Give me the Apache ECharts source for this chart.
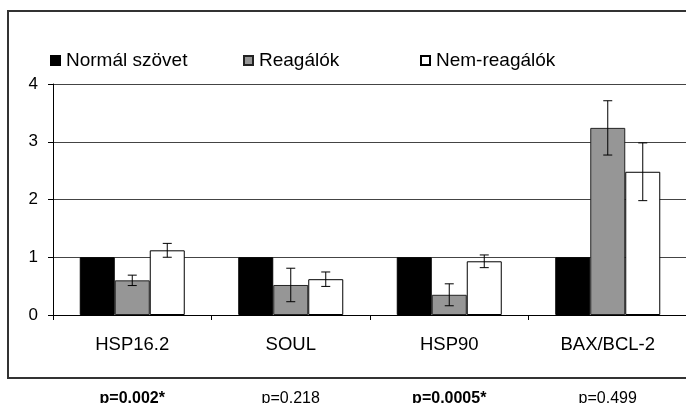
<!DOCTYPE html>
<html>
<head>
<meta charset="utf-8">
<script src="https://cdn.jsdelivr.net/npm/echarts@6/dist/echarts.min.js"></script>
<style>
html,body{margin:0;padding:0;background:#fff;}
#c{width:686px;height:403px;}
</style>
</head>
<body>
<div id="c"></div>
<script>
const categories = ['HSP16.2', 'SOUL', 'HSP90', 'BAX/BCL-2'];
const seriesNames = ['Normál szövet', 'Reagálók', 'Nem-reagálók'];
const normal = [1, 1, 1, 1];
const responders = [0.6, 0.52, 0.35, 3.24];
const respondersErr = [0.09, 0.29, 0.19, 0.47];
const nonResponders = [1.12, 0.62, 0.93, 2.48];
const nonRespondersErr = [0.12, 0.125, 0.11, 0.5];
const pValues = ['p=0.002*', 'p=0.218', 'p=0.0005*', 'p=0.499'];
const pSignificant = [true, false, true, false];
const yTicks = [0, 1, 2, 3, 4];

const chart = echarts.init(document.getElementById('c'), null, {renderer: 'canvas'});
const FONT = '"Liberation Sans", Arial, sans-serif';
const colors = ['#000000', '#969696', '#ffffff'];
const borders = ['#000000', '#222222', '#000000'];

function errSeries(name, values, errs, seriesIdx) {
  return {
    type: 'custom',
    name: name + '_err',
    xAxisIndex: 0, yAxisIndex: 0,
    z: 5,
    silent: true,
    data: values.map((v, i) => [i, v - errs[i], v + errs[i]]),
    renderItem: function (params, api) {
      const i = api.value(0);
      const lo = api.coord([i, api.value(1)]);
      const hi = api.coord([i, api.value(2)]);
      const bw = 35;
      const x = lo[0] + (seriesIdx - 1) * bw;
      const cap = 4.5;
      const st = {stroke: '#000', lineWidth: 1};
      return {
        type: 'group',
        children: [
          {type: 'line', shape: {x1: x, y1: lo[1], x2: x, y2: hi[1]}, style: st},
          {type: 'line', shape: {x1: x - cap, y1: lo[1], x2: x + cap, y2: lo[1]}, style: st},
          {type: 'line', shape: {x1: x - cap, y1: hi[1], x2: x + cap, y2: hi[1]}, style: st}
        ]
      };
    }
  };
}

function legendFor(idx, left) {
  return {
    left: left, top: 46,
    itemWidth: 9, itemHeight: 9, itemGap: 0,
    icon: 'rect',
    data: [seriesNames[idx]],
    textStyle: {fontFamily: FONT, fontSize: 19, color: '#000', padding: [0, 0, 0, 1]},
    selectedMode: false
  };
}

const option = {
  animation: false,
  backgroundColor: '#fff',
  textStyle: {fontFamily: FONT},
  graphic: [{
    type: 'rect', z: 100, silent: true,
    shape: {x: 8, y: 11, width: 700, height: 367},
    style: {fill: 'none', stroke: '#333', lineWidth: 2}
  }],
  legend: [legendFor(0, 45), legendFor(1, 238), legendFor(2, 415)],
  grid: {left: 53, right: -1, top: 84, bottom: 88, containLabel: false, outerBoundsMode: 'none'},
  xAxis: [{
    type: 'category',
    data: categories,
    axisLine: {show: true, lineStyle: {color: '#000', width: 1}},
    axisTick: {show: true, length: 5, lineStyle: {color: '#000'}},
    axisLabel: {fontFamily: FONT, fontSize: 18.5, color: '#000', margin: 20}
  }, {
    type: 'category',
    data: categories,
    position: 'bottom',
    offset: 76,
    axisLine: {show: false},
    axisTick: {show: false},
    axisLabel: {
      margin: 0,
      formatter: function (v, i) {
        return pSignificant[i] ? '{b|' + pValues[i] + '}' : '{n|' + pValues[i] + '}';
      },
      rich: {
        b: {fontFamily: FONT, fontSize: 16, fontWeight: 'bold', color: '#000'},
        n: {fontFamily: FONT, fontSize: 16, color: '#000'}
      }
    }
  }],
  yAxis: {
    type: 'value',
    min: yTicks[0], max: yTicks[yTicks.length - 1], interval: 1,
    axisLine: {show: true, lineStyle: {color: '#000', width: 1}},
    axisTick: {show: true, length: 5, inside: false, lineStyle: {color: '#000'}},
    axisLabel: {fontFamily: FONT, fontSize: 17, color: '#000', margin: 15},
    splitLine: {show: true, lineStyle: {color: '#444', width: 1}}
  },
  series: [
    {
      type: 'bar', name: seriesNames[0], data: normal, barWidth: 35, barGap: '0%',
      itemStyle: {color: colors[0], borderColor: borders[0], borderWidth: 1}
    },
    {
      type: 'bar', name: seriesNames[1], data: responders, barWidth: 35, barGap: '0%',
      itemStyle: {color: colors[1], borderColor: borders[1], borderWidth: 1}
    },
    {
      type: 'bar', name: seriesNames[2], data: nonResponders, barWidth: 35, barGap: '0%',
      itemStyle: {color: colors[2], borderColor: borders[2], borderWidth: 1}
    },
    errSeries(seriesNames[1], responders, respondersErr, 1),
    errSeries(seriesNames[2], nonResponders, nonRespondersErr, 2)
  ]
};
chart.setOption(option);
</script>
</body>
</html>
